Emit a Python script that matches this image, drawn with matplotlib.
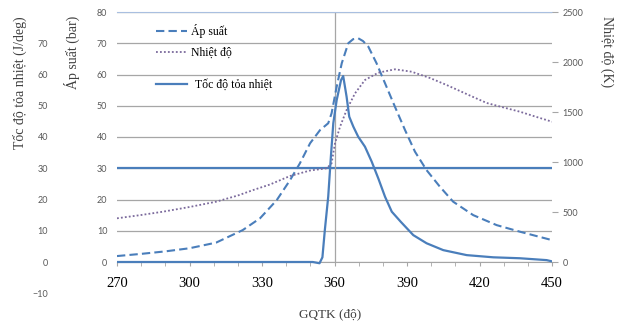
import matplotlib
matplotlib.use("Agg")
import matplotlib.pyplot as plt
from matplotlib.ticker import MultipleLocator

# ---------------- data ----------------
p_angle = [270, 280, 290, 300, 311, 322, 329.2, 336.1, 341.6, 345.7, 349.9,
           354, 357.4, 358.8, 360.9, 363, 365.7, 367.7, 369.8, 371.8, 374,
           377.4, 380.9, 385, 389.2, 393.3, 398.1, 403.6, 409.1, 417.4,
           427.1, 436.7, 450]
pressure = [1.9, 2.6, 3.4, 4.4, 6.2, 10.2, 14.0, 19.8, 26.2, 31.6, 38,
            42.2, 44.4, 47.6, 56.1, 63.6, 70, 71.3, 71.6, 70.7, 68.9,
            63.6, 57.2, 49.7, 42.2, 35.3, 29.4, 24.1, 19.3, 15.0,
            11.8, 9.7, 7.0]

t_angle = [270, 280, 289, 300, 311, 320, 326.4, 333.3, 341.6, 349.9, 356.8,
           358.8, 360.2, 362.3, 365, 368.5, 372.6, 378.1, 385, 391.9, 399.5,
           406.4, 416, 423, 430, 436.7, 443, 450]
temperature = [437, 470, 503, 550, 603, 665, 720, 775, 860, 915, 937,
               987, 1187, 1353, 1520, 1687, 1820, 1893, 1927, 1903, 1840,
               1770, 1665, 1590, 1545, 1503, 1455, 1403]

h_angle = [270, 300, 330, 351, 353.8, 355, 356, 357.4, 358.5, 359.5, 360.9,
           362.7, 363.6, 365, 366.1, 367.8, 369.8, 372.6, 375.4, 378.1, 380.9,
           383.7, 387.5, 392.6, 398.1, 405, 414.7, 425.7, 436.7, 447.8, 450]
heat_release = [0, 0, 0, 0, -0.4, 1.5, 10.2, 20.9, 33.7, 44.4, 51.8,
                58.2, 59.5, 52.9, 46.5, 43.3, 40.1, 36.9, 32.1, 26.8, 20.9,
                16.1, 12.8, 8.6, 6.0, 3.8, 2.2, 1.5, 1.2, 0.6, 0.2]

x_ticks = [270, 300, 330, 360, 390, 420, 450]
p_ticks = list(range(0, 81, 10))
t_ticks = list(range(0, 2501, 500))
h_ticks = list(range(-10, 71, 10))
ref_level = 30          # horizontal blue reference line (bar)
tdc = 360               # vertical line at TDC

labels = {"p": "Áp suất", "t": "Nhiệt độ", "h": "Tốc độ tỏa nhiệt"}

# ---------------- styling ----------------
W, H = 622, 326
BLUE = "#4a7ebb"
PURPLE = "#7b6a9c"
GRID = "#a6a6a6"
TICKGRAY = "#595959"
serif = ["Liberation Serif", "DejaVu Serif"]
sans = ["Lato", "DejaVu Sans"]

fig = plt.figure(figsize=(W / 100, H / 100), dpi=100)
L, R, T, B = 117, 552, 12, 262
ax = fig.add_axes([L / W, (H - B) / H, (R - L) / W, (B - T) / H])
ax2 = ax.twinx()
B3 = B + (B - T) / 8.0  # -10 position for heat-release axis
ax3 = fig.add_axes([L / W, (H - B3) / H, (R - L) / W, (B3 - T) / H])

# main (pressure) axis
ax.set_xlim(270, 450)
ax.set_ylim(0, 80)
ax.set_yticks(p_ticks)
ax.grid(axis="y", color=GRID, lw=0.9)
ax.set_axisbelow(True)
ax.axhline(ref_level, color=BLUE, lw=1.6, zorder=1.5)
ax.axvline(tdc, color=GRID, lw=0.9, zorder=1.5)
for s in ["left", "right"]:
    ax.spines[s].set_visible(False)
ax.spines["top"].set_color("#a9bfe0")
ax.spines["bottom"].set_color(GRID)
ax.tick_params(axis="y", length=0, pad=7, labelsize=6.5, labelcolor=TICKGRAY)
for t in ax.get_yticklabels():
    t.set_family(sans)
ax.set_xticks(x_ticks)
ax.xaxis.set_minor_locator(MultipleLocator(10))
ax.tick_params(axis="x", which="both", length=3, color=GRID, pad=8,
               labelsize=10.5)
for t in ax.get_xticklabels():
    t.set_family(serif)
ax.set_xlabel("GQTK (độ)", family=serif, fontsize=9.5, color="#404040")
ax.xaxis.set_label_coords((330 - L) / (R - L), (B - 308) / (B - T))
ax.set_ylabel("Áp suất (bar)", family=serif, fontsize=10, color="#404040",
              va="center")
ax.yaxis.set_label_coords((72 - L) / (R - L), (B - 52) / (B - T))

lp, = ax.plot(p_angle, pressure, color=BLUE, lw=1.5, ls=(0, (4, 2)),
              label=labels["p"], zorder=3, dash_joinstyle="round")

# temperature axis
ax2.set_ylim(0, 2500)
ax2.set_yticks(t_ticks)
for s in ax2.spines.values():
    s.set_visible(False)
ax2.tick_params(axis="y", length=4, color=GRID, pad=3.5, labelsize=6.5,
                labelcolor=TICKGRAY)
for t in ax2.get_yticklabels():
    t.set_family(sans)
ax2.set_ylabel("Nhiệt độ (K)", family=serif, fontsize=10, color="#404040",
               rotation=270, va="center")
ax2.yaxis.set_label_coords((607 - L) / (R - L), (B - 52) / (B - T))
lt, = ax2.plot(t_angle, temperature, color=PURPLE, lw=1.3, ls=(0, (1, 1.2)),
               label=labels["t"], zorder=3)

# heat-release axis (same scale as pressure, extended down to -10)
ax3.patch.set_visible(False)
ax3.set_xlim(270, 450)
ax3.set_ylim(-10, 80)
ax3.set_yticks(h_ticks)
for s in ax3.spines.values():
    s.set_visible(False)
ax3.xaxis.set_visible(False)
ax3.tick_params(axis="y", length=0, pad=(L - 48) * 0.72, labelsize=6.5,
                labelcolor=TICKGRAY)
for t in ax3.get_yticklabels():
    t.set_family(sans)
ax3.set_ylabel("Tốc độ tỏa nhiệt (J/deg)", family=serif, fontsize=10,
               color="#404040", va="center")
ax3.yaxis.set_label_coords((20 - L) / (R - L), (B3 - 83) / (B3 - T))
lh, = ax3.plot(h_angle, heat_release, color=BLUE, lw=1.6,
               label=labels["h"], zorder=3, solid_joinstyle="round")

# legends
leg1 = ax.legend(handles=[lp, lt], loc="upper left",
                 bbox_to_anchor=((156 - L) / (R - L), (B - 24) / (B - T)),
                 frameon=False, prop={"family": serif, "size": 8.5},
                 handlelength=2.6, handletextpad=0.4, labelspacing=0.75,
                 borderpad=0, borderaxespad=0)
ax.add_artist(leg1)
ax.legend(handles=[lh], loc="upper left",
          bbox_to_anchor=((156 - L) / (R - L), (B - 79) / (B - T)),
          frameon=False, prop={"family": serif, "size": 8.5},
          handlelength=2.6, handletextpad=0.7, borderpad=0, borderaxespad=0)

fig.savefig("out.png", dpi=100)
